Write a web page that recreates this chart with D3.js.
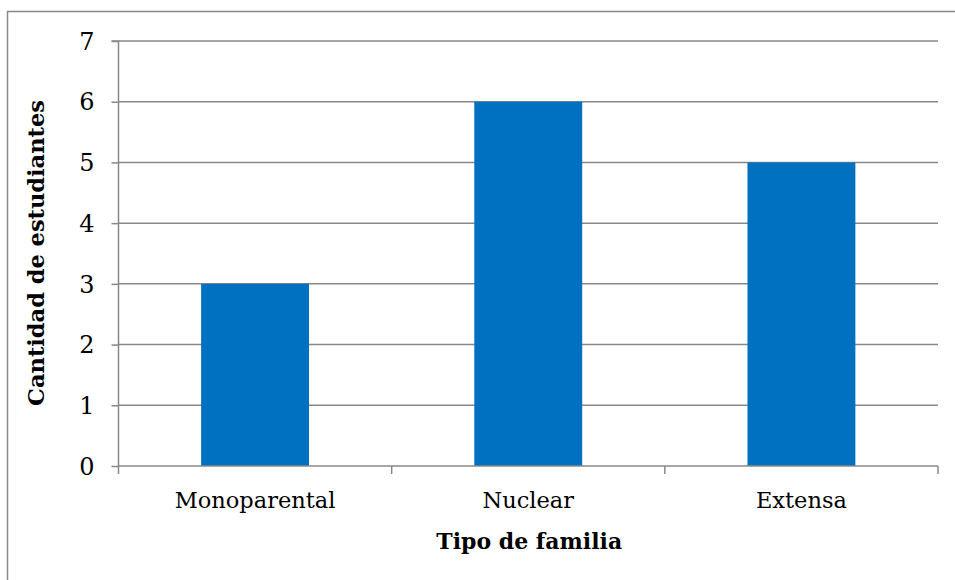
<!DOCTYPE html>
<html><head><meta charset="utf-8">
<script src="https://cdn.jsdelivr.net/npm/d3@7"></script>
<style>body{margin:0;background:#fff}svg{display:block}</style>
</head><body>
<script>
const categories = ["Monoparental", "Nuclear", "Extensa"];
const values = [3, 6, 5];
const yTicks = [0, 1, 2, 3, 4, 5, 6, 7];
const yTitle = "Cantidad de estudiantes";
const xTitle = "Tipo de familia";

const W = 955, H = 580;
const m = {left: 118.5, right: 17, top: 41, bottom: 114};
const font = "'DejaVu Serif', serif";
const svg = d3.select("body").append("svg").attr("width", W).attr("height", H);

// outer frame
svg.append("path").attr("d", `M7.5,${H} V11.5 H${W}`).attr("fill", "none").attr("stroke", "#888").attr("stroke-width", 1.5);

const x = d3.scaleBand().domain(categories).range([m.left, W - m.right]).paddingInner(0.605).paddingOuter(0.3025);
const y = d3.scaleLinear().domain([0, 7]).range([H - m.bottom, m.top]);

// gridlines
svg.append("g").selectAll("line").data(yTicks.filter(d => d > 0)).join("line")
  .attr("x1", m.left).attr("x2", W - m.right).attr("y1", d => y(d)).attr("y2", d => y(d))
  .attr("stroke", "#888").attr("stroke-width", 1.5);

// bars
svg.append("g").selectAll("rect").data(values).join("rect")
  .attr("x", (d, i) => x(categories[i])).attr("width", x.bandwidth())
  .attr("y", d => y(d)).attr("height", d => y(0) - y(d)).attr("fill", "#0070C0");

// y axis
const ya = svg.append("g").attr("transform", `translate(${m.left},0)`)
  .call(d3.axisLeft(y).tickValues(yTicks).tickSize(7).tickPadding(17).tickFormat(d3.format("d")));
ya.select(".domain").attr("stroke", "#888").attr("stroke-width", 1.5).attr("d", `M-7,${y(7)}H0V${y(0)}`);
ya.selectAll(".tick line").attr("stroke", "#888").attr("stroke-width", 1.5);
ya.selectAll(".tick text").attr("font-family", font).attr("font-size", 24).attr("fill", "#000").attr("dy", "0.34em");

// x axis with boundary ticks
const xa = svg.append("g").attr("transform", `translate(0,${y(0)})`);
xa.append("line").attr("x1", m.left).attr("x2", W - m.right).attr("stroke", "#888").attr("stroke-width", 1.5);
const bounds = d3.range(categories.length + 1).map(i => m.left + i * (W - m.right - m.left) / categories.length);
xa.selectAll("line.t").data(bounds).join("line").attr("class", "t")
  .attr("x1", d => d).attr("x2", d => d).attr("y1", 0).attr("y2", 8).attr("stroke", "#888").attr("stroke-width", 1.5);
xa.selectAll("text").data(categories).join("text")
  .attr("x", d => x(d) + x.bandwidth() / 2).attr("y", 42).attr("text-anchor", "middle")
  .attr("font-family", font).attr("font-size", 22.5).attr("fill", "#000").text(d => d);

// titles
svg.append("text").attr("x", (m.left + W - m.right) / 2 + 1).attr("y", 549).attr("text-anchor", "middle")
  .attr("font-family", font).attr("font-weight", "bold").attr("font-size", 22).text(xTitle);
svg.append("text").attr("transform", `translate(44,253) rotate(-90)`).attr("text-anchor", "middle")
  .attr("font-family", font).attr("font-weight", "bold").attr("font-size", 22.5).text(yTitle);
</script>
</body></html>
